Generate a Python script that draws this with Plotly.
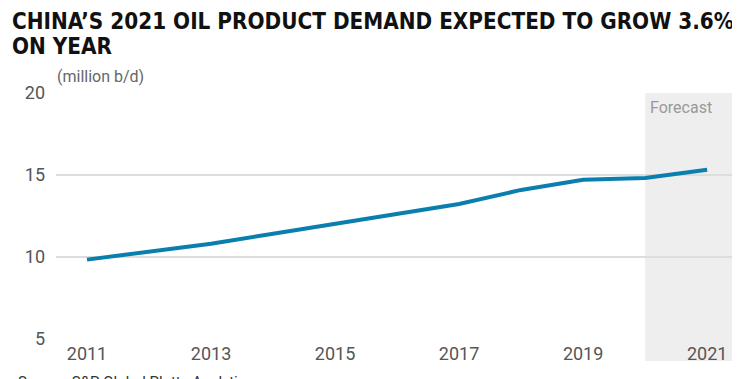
import plotly.graph_objects as go

years = [2011, 2012, 2013, 2014, 2015, 2016, 2017, 2018, 2019, 2020, 2021]
demand = [9.84, 10.33, 10.81, 11.42, 12.03, 12.62, 13.23, 14.09, 14.71, 14.82, 15.32]
tick_years = [2011, 2013, 2015, 2017, 2019, 2021]
y_ticks = [5, 10, 15, 20]

title_lines = ["CHINA’S 2021 OIL PRODUCT DEMAND EXPECTED TO GROW 3.6%", "ON YEAR"]

# page body has an 8px margin, so the figure is placed at (8, 8)
W, H = 732, 371
L, R, T, B = 48, 0, 85, 40
PW, PH = W - L - R, H - T - B

fig = go.Figure()
fig.add_trace(go.Scatter(x=years, y=demand, mode="lines",
                         line=dict(color="#0A7EAD", width=4), hoverinfo="skip"))

fig.add_shape(type="rect", xref="x", yref="paper", x0=2020, x1=2022, y0=-22 / PH, y1=1,
              fillcolor="#EEEEEE", line=dict(width=0), layer="below")

fig.update_layout(
    width=W, height=H,
    margin=dict(l=L, r=R, t=T, b=B),
    paper_bgcolor="white", plot_bgcolor="white",
    showlegend=False,
    xaxis=dict(range=[2010.5, 2021.53], tickvals=tick_years, ticktext=[str(t) for t in tick_years],
               showgrid=False, zeroline=False, showline=False, ticks="",
               tickfont=dict(family="Roboto", size=18, color="#555"), ticklabelstandoff=2),
    yaxis=dict(range=[5, 20], tickvals=y_ticks, showgrid=True, gridcolor="#DDDDDD", gridwidth=1.5,
               zeroline=False, showline=False, ticks="",
               tickfont=dict(family="Roboto", size=18, color="#555"), ticklabelstandoff=10),
)

for i, t in enumerate(title_lines):
    fig.add_annotation(text="<b>" + t + "</b>", xref="paper", yref="paper",
                       x=-(L - 2) / PW, y=1 + (T + 2 - 25 * i) / PH,
                       xanchor="left", yanchor="top", showarrow=False,
                       font=dict(family="DejaVu Sans Condensed, Liberation Sans Narrow, Roboto",
                                 size=22.3, color="#111"))

fig.add_annotation(text="(million b/d)", xref="paper", yref="paper", x=-1 / PW, y=1 + 5 / PH,
                   xanchor="left", yanchor="bottom", showarrow=False,
                   font=dict(family="Roboto", size=16, color="#666"))
fig.add_annotation(text="Forecast", xref="x", yref="paper", x=2020.05, y=1 - 3 / PH,
                   xanchor="left", yanchor="top", showarrow=False,
                   font=dict(family="Roboto", size=16, color="#999"))
fig.add_annotation(text="Source: S&P Global Platts Analytics", xref="paper", yref="paper",
                   x=-(L - 8) / PW, y=-32 / PH, xanchor="left", yanchor="top", showarrow=False,
                   font=dict(family="Roboto", size=15, color="#333"))

fig.write_html("out.html")
